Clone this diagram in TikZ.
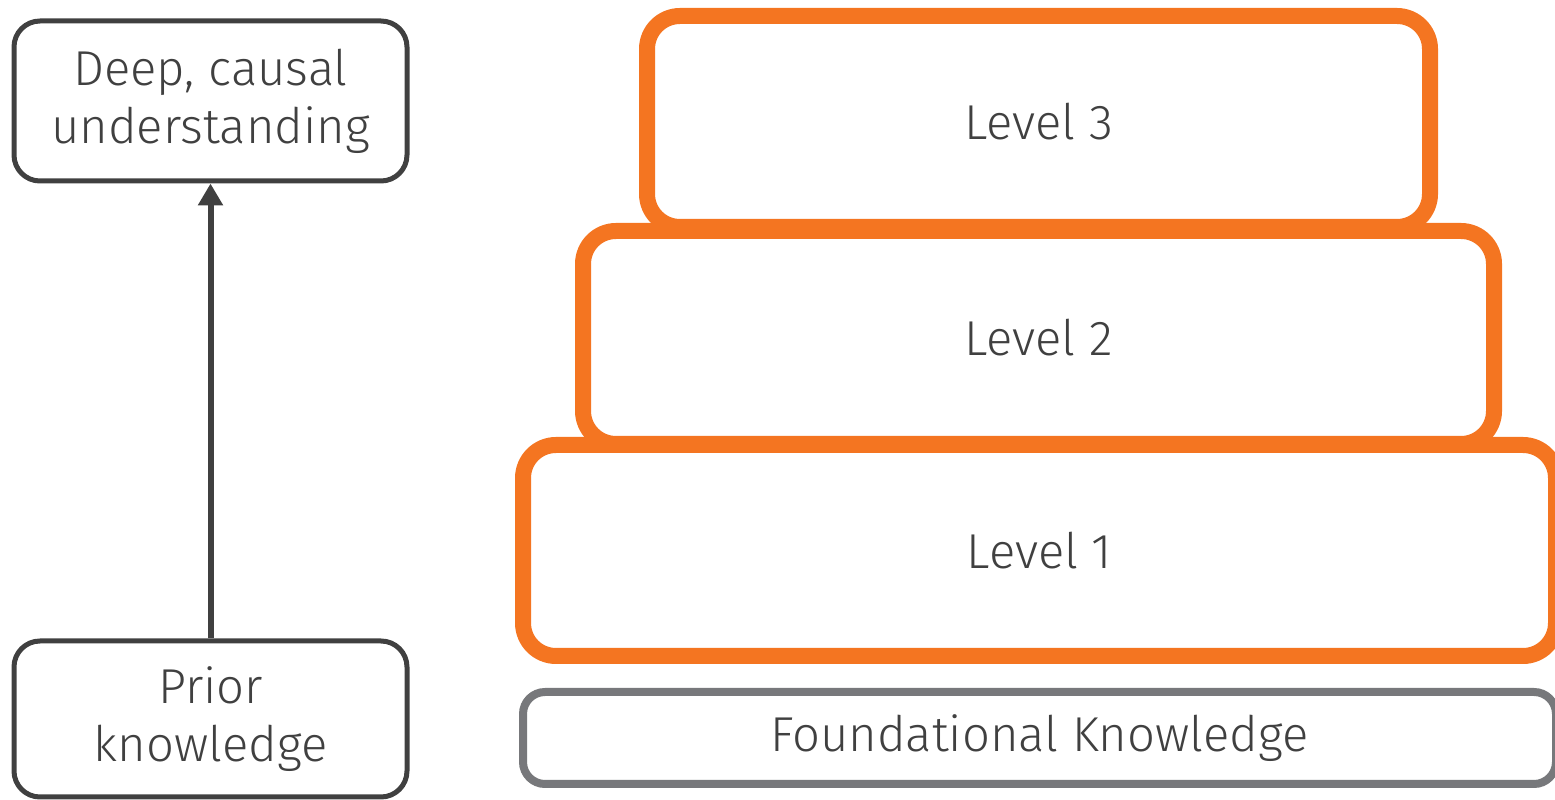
\documentclass[tikz,border=0pt]{standalone}
\usepackage{fontspec}
\setmainfont{Fira Sans Light}
\usetikzlibrary{arrows.meta}
\definecolor{txt}{HTML}{404040}
\definecolor{org}{HTML}{F47521}
\definecolor{fgray}{HTML}{77787B}
\tikzset{
  lvl/.style={draw=org, line width=16pt, rounded corners=33pt, fill=white, inner sep=0pt, text=txt, font=\fontsize{49}{58}\selectfont},
  fnd/.style={draw=fgray, line width=8pt, rounded corners=22pt, fill=white, inner sep=0pt, text=txt, font=\fontsize{49}{58}\selectfont},
  lbox/.style={draw=txt, line width=5pt, rounded corners=26pt, inner sep=0pt, text=txt, align=center, font=\fontsize{49}{58}\selectfont},
  conn/.style={draw=txt, line width=6pt, -{Triangle[width=24pt,length=22pt]}}
}
\begin{document}
\begin{tikzpicture}[x=1pt,y=1pt]
\useasboundingbox (0,0) rectangle (1555,800);
\node[lvl, minimum width=783pt, minimum height=211pt] (l3) at (1038.5,678.5) {Level 3};
\node[lvl, minimum width=911pt, minimum height=213pt] (l2) at (1038.5,462.5) {Level 2};
\node[lvl, minimum width=1033pt, minimum height=211pt] (l1) at (1039.5,249.5) {Level 1};
\node[fnd, minimum width=1033pt, minimum height=92pt] (fk) at (1039.5,62) {Foundational Knowledge};
\node[lbox, minimum width=393pt, minimum height=160pt] (deep) at (210.5,699) {Deep, causal\\understanding};
\node[lbox, minimum width=393pt, minimum height=156pt] (prior) at (210.5,81) {Prior\\knowledge};
\draw[conn] (prior.north) -- (deep.south);
\end{tikzpicture}
\end{document}
